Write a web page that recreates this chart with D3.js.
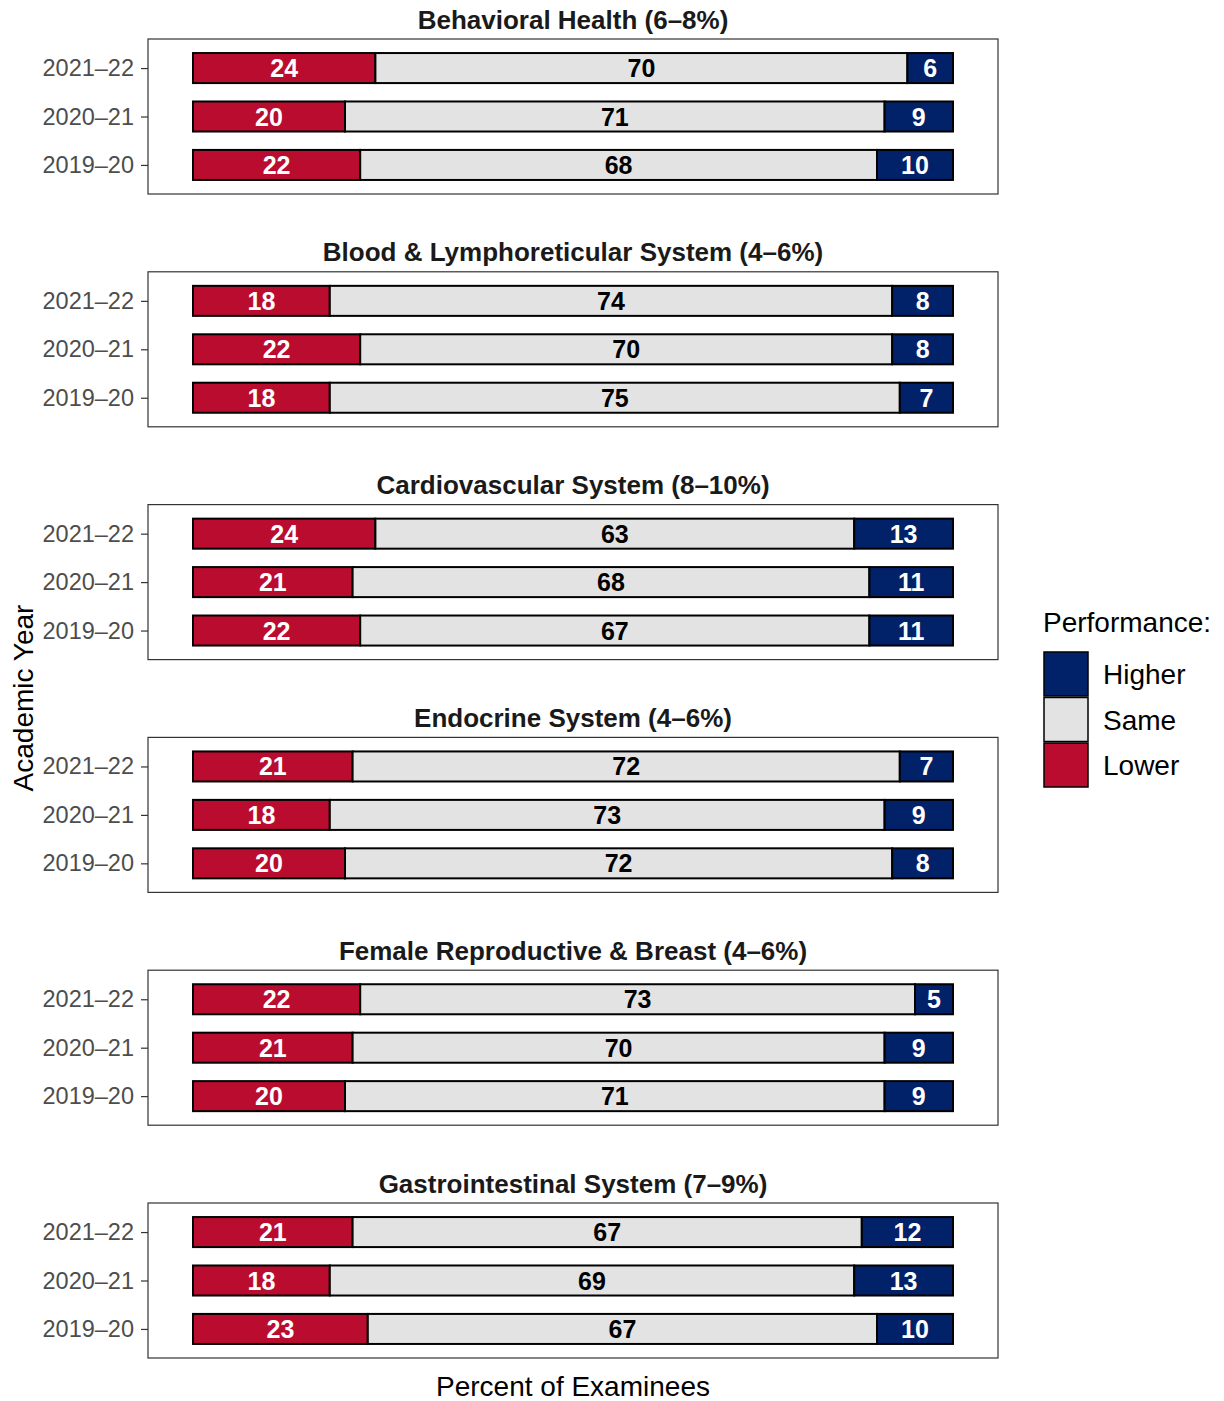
<!DOCTYPE html>
<html lang="en">
<head>
<meta charset="utf-8">
<title>Performance by Academic Year</title>
<script src="https://d3js.org/d3.v7.min.js"></script>
<style>
  body { margin: 0; background: #fff; font-family: "Liberation Sans", Arial, Helvetica, sans-serif; }
</style>
</head>
<body>
<script>
// data
var panels = [
  "Behavioral Health (6\u20138%)",
  "Blood & Lymphoreticular System (4\u20136%)",
  "Cardiovascular System (8\u201310%)",
  "Endocrine System (4\u20136%)",
  "Female Reproductive & Breast (4\u20136%)",
  "Gastrointestinal System (7\u20139%)"
];
var years = ["2021\u201322", "2020\u201321", "2019\u201320"];
var categories = ["Lower", "Same", "Higher"];
// values per panel, rows in order of years
var lower  = [[24, 20, 22], [18, 22, 18], [24, 21, 22], [21, 18, 20], [22, 21, 20], [21, 18, 23]];
var same   = [[70, 71, 68], [74, 70, 75], [63, 68, 67], [72, 73, 72], [73, 70, 71], [67, 69, 67]];
var higher = [[6, 9, 10],   [8, 8, 7],    [13, 11, 11], [7, 9, 8],    [5, 9, 9],    [12, 13, 10]];
var legendOrder = ["Higher", "Same", "Lower"];

var colors = { Lower: "#BA0C2F", Same: "#E3E3E3", Higher: "#012169" };
var labelColors = { Lower: "#ffffff", Same: "#000000", Higher: "#ffffff" };

var W = 1224, H = 1401;
var boxLeft = 148, boxRight = 998;
var firstTop = 39, panelStep = 232.8, boxH = 155;

var svg = d3.select("body").append("svg")
  .attr("width", W)
  .attr("height", H);

var x = d3.scaleLinear().domain([0, 100]).range([193, 953]);
var color = d3.scaleOrdinal().domain(categories).range(categories.map(function(c) { return colors[c]; }));

panels.forEach(function(title, p) {
  var top = firstTop + p * panelStep;
  var g = svg.append("g");

  var y = d3.scalePoint().domain(years).range([top, top + boxH]).padding(0.6);
  var barH = y.step() * 0.62;

  // stacked rows
  var rows = years.map(function(yr, i) {
    return { year: yr, Lower: lower[p][i], Same: same[p][i], Higher: higher[p][i] };
  });
  var series = d3.stack().keys(categories)(rows);

  series.forEach(function(s) {
    var key = s.key;
    g.selectAll("rect.seg-" + key)
      .data(s)
      .enter()
      .append("rect")
      .attr("x", function(d) { return x(d[0]); })
      .attr("y", function(d) { return y(d.data.year) - barH / 2; })
      .attr("width", function(d) { return x(d[1]) - x(d[0]); })
      .attr("height", barH)
      .attr("fill", color(key))
      .attr("stroke", "#000")
      .attr("stroke-width", 2);

    g.selectAll("text.lab-" + key)
      .data(s)
      .enter()
      .append("text")
      .attr("x", function(d) { return x((d[0] + d[1]) / 2); })
      .attr("y", function(d) { return y(d.data.year); })
      .attr("dy", "0.36em")
      .attr("text-anchor", "middle")
      .attr("font-size", "25px")
      .attr("font-weight", "bold")
      .attr("fill", labelColors[key])
      .text(function(d) { return d[1] - d[0]; });
  });

  // panel border
  g.append("rect")
    .attr("x", boxLeft)
    .attr("y", top)
    .attr("width", boxRight - boxLeft)
    .attr("height", boxH)
    .attr("fill", "none")
    .attr("stroke", "#333333")
    .attr("stroke-width", 1.2);

  // y axis
  var yAxis = d3.axisLeft(y).tickSize(7).tickPadding(7);
  var ax = g.append("g")
    .attr("transform", "translate(" + boxLeft + ",0)")
    .call(yAxis);
  ax.select(".domain").remove();
  ax.selectAll("line").attr("stroke", "#333333").attr("stroke-width", 1.2);
  ax.selectAll("text")
    .attr("font-size", "23.5px")
    .attr("font-family", "Liberation Sans, Arial, sans-serif")
    .attr("fill", "#4D4D4D");

  // title
  g.append("text")
    .attr("x", (boxLeft + boxRight) / 2)
    .attr("y", top - 10.5)
    .attr("text-anchor", "middle")
    .attr("font-size", "26px")
    .attr("font-weight", "bold")
    .attr("fill", "#1A1A1A")
    .text(title);
});

// axis titles
svg.append("text")
  .attr("x", (boxLeft + boxRight) / 2)
  .attr("y", 1396)
  .attr("text-anchor", "middle")
  .attr("font-size", "28px")
  .attr("fill", "#000")
  .text("Percent of Examinees");

svg.append("text")
  .attr("transform", "translate(33,698) rotate(-90)")
  .attr("text-anchor", "middle")
  .attr("font-size", "28px")
  .attr("fill", "#000")
  .text("Academic Year");

// legend
var leg = svg.append("g").attr("transform", "translate(1043,0)");
leg.append("text")
  .attr("x", 0)
  .attr("y", 632)
  .attr("font-size", "28px")
  .attr("fill", "#000")
  .text("Performance:");

var keySize = 44, keyTop = 652, keyStep = 45.5;
leg.selectAll("rect.key")
  .data(legendOrder)
  .enter()
  .append("rect")
  .attr("x", 1)
  .attr("y", function(d, i) { return keyTop + i * keyStep; })
  .attr("width", keySize)
  .attr("height", keySize)
  .attr("fill", function(d) { return color(d); })
  .attr("stroke", "#000")
  .attr("stroke-width", 1.5);

leg.selectAll("text.key")
  .data(legendOrder)
  .enter()
  .append("text")
  .attr("x", 60)
  .attr("y", function(d, i) { return keyTop + i * keyStep + keySize / 2; })
  .attr("dy", "0.36em")
  .attr("font-size", "28px")
  .attr("fill", "#000")
  .text(function(d) { return d; });
</script>
</body>
</html>
